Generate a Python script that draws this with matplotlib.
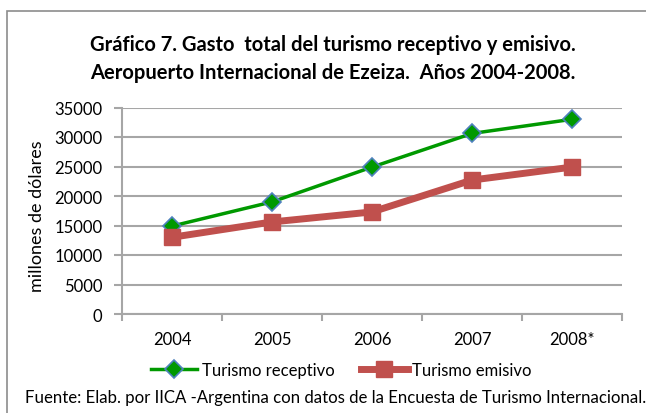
import matplotlib.pyplot as plt
import numpy as np
from matplotlib.patches import Rectangle

years = ["2004", "2005", "2006", "2007", "2008*"]
receptivo = [14900, 19000, 24900, 30600, 33000]
emisivo = [13000, 15600, 17300, 22700, 24900]
y_ticks = [0, 5000, 10000, 15000, 20000, 25000, 30000, 35000]

plt.rcParams["font.family"] = ["Lato", "DejaVu Sans"]

W, H = 646, 414
fig = plt.figure(figsize=(W / 100, H / 100), dpi=100)

# borde del gráfico
fig.patches.append(Rectangle((7 / W, -0.1), 1.0, 1 - 12 / H + 0.1,
                             transform=fig.transFigure, fill=False,
                             edgecolor="#8c8c8c", linewidth=1.2))

ax = fig.add_axes([122 / W, 1 - 315 / H, 500 / W, (315 - 108.5) / H])

x = np.arange(len(years))
grid_color = "#a6a6a6"

ax.plot(x, receptivo, color="#009900", linewidth=2.5, marker="D",
        markersize=9.5, markerfacecolor="#009900", markeredgecolor="#4f81bd",
        markeredgewidth=1.2, label="Turismo receptivo", zorder=3)
ax.plot(x, emisivo, color="#c0504d", linewidth=5, marker="s",
        markersize=11, markerfacecolor="#c0504d", markeredgecolor="#c0504d",
        label="Turismo emisivo", zorder=3)

ax.set_xlim(-0.5, len(years) - 0.5)
ax.set_ylim(0, 35000)
ax.set_yticks(y_ticks)
ax.set_yticklabels([str(v) for v in y_ticks])
ax.set_xticks(x)
ax.set_xticklabels(years)
ax.set_xticks(np.arange(-0.5, len(years), 1.0), minor=True)
ax.tick_params(axis="x", which="major", length=0, pad=12, labelsize=12)
ax.tick_params(axis="x", which="minor", length=5, color=grid_color, width=1.5)
ax.tick_params(axis="y", length=6, color=grid_color, width=1.5, labelsize=12, pad=8)

ax.yaxis.grid(True, color=grid_color, linewidth=1.5)
ax.set_axisbelow(True)
for side in ["top", "right"]:
    ax.spines[side].set_visible(False)
for side in ["left", "bottom"]:
    ax.spines[side].set_color(grid_color)
    ax.spines[side].set_linewidth(1.5)

ax.set_ylabel("millones de dólares", fontsize=13)
ax.yaxis.set_label_coords((45 - 122) / 500, 0.48)

fig.text(333 / W, 1 - 45 / H, "Gráfico 7. Gasto  total del turismo receptivo y emisivo.",
         ha="center", va="center", fontsize=14.5, fontweight="bold")
fig.text(333 / W, 1 - 73 / H, "Aeropuerto Internacional de Ezeiza.  Años 2004-2008.",
         ha="center", va="center", fontsize=14.5, fontweight="bold")

fig.legend(loc="center", bbox_to_anchor=(341 / W, 1 - 371 / H), ncol=2,
           frameon=False, fontsize=12, handlelength=2.8, handletextpad=0.25,
           columnspacing=1.6)

fig.text(25 / W, 1 - 398 / H,
         "Fuente: Elab. por IICA -Argentina con datos de la Encuesta de Turismo Internacional.",
         ha="left", va="center", fontsize=12.1)

fig.savefig("out.png", dpi=100)
